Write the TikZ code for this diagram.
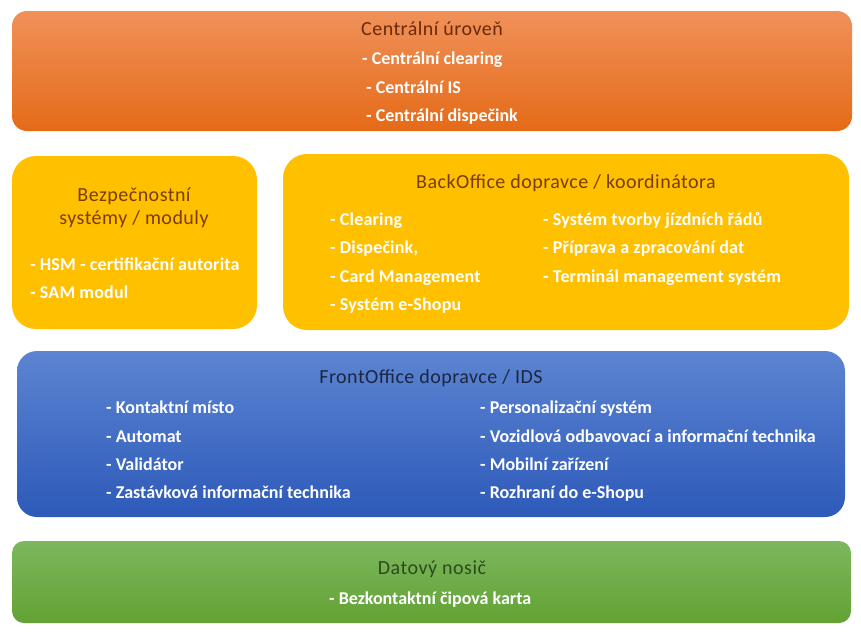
\documentclass[tikz,border=0pt]{standalone}
\usepackage{fontspec}
\setmainfont{Carlito}
\newfontfamily\ttlfont[LetterSpace=2.4]{Carlito}
\newfontfamily\yebold[LetterSpace=1.0]{Carlito Bold}
\definecolor{orT}{HTML}{F0915A}
\definecolor{orB}{HTML}{E56A17}
\definecolor{ye}{HTML}{FFC000}
\definecolor{blT}{HTML}{5C84D2}
\definecolor{blB}{HTML}{2D5AB9}
\definecolor{grT}{HTML}{7DB75E}
\definecolor{grB}{HTML}{62A233}
\definecolor{brownT}{HTML}{6B2A08}
\definecolor{yeT}{HTML}{7A3C00}
\definecolor{blueT}{HTML}{1C2640}
\definecolor{greenT}{HTML}{2E4A1C}
\tikzset{
  ttl/.style={inner sep=0pt, anchor=base, font=\fontsize{20}{22}\ttlfont},
  itm/.style={inner sep=0pt, anchor=base west, text=white, font=\fontsize{18}{20}\bfseries},
  itmy/.style={inner sep=0pt, anchor=base west, text=white, font=\fontsize{18}{20}\yebold},
}
\begin{document}
\begin{tikzpicture}[x=1pt,y=-1pt]
\useasboundingbox (0,0) rectangle (861,633);
% boxes
\shade[top color=orT, bottom color=orB, rounded corners=15pt] (12,11) rectangle (852,131);
\fill[ye, rounded corners=24pt] (12,156) rectangle (257,329);
\fill[ye, rounded corners=24pt] (283,154) rectangle (849,330);
\shade[top color=blT, bottom color=blB, rounded corners=20pt] (17,351) rectangle (845,517);
\shade[top color=grT, bottom color=grB, rounded corners=12pt] (12,541) rectangle (851,623);
% central
\node[ttl, text=brownT] (c0) at (432,35) {Centrální úroveň};
\node[itm] (c1) at (362,64) {- Centrální clearing};
\node[itm] (c2) at (366,93) {- Centrální IS};
\node[itm] (c3) at (366,121) {- Centrální dispečink};
% security
\node[ttl, text=yeT] (s0) at (134,201) {Bezpečnostní};
\node[ttl, text=yeT] (s0b) at (134,224) {systémy / moduly};
\node[itmy] (s1) at (30,270) {- HSM - certifikační autorita};
\node[itmy] (s2) at (30,298) {- SAM modul};
% backoffice
\node[ttl, text=yeT] (b0) at (566,188) {BackOffice dopravce / koordinátora};
\node[itmy] (b1) at (330,225) {- Clearing};
\node[itmy] (b2) at (330,253) {- Dispečink,};
\node[itmy] (b3) at (330,282) {- Card Management};
\node[itmy] (b4) at (330,310) {- Systém e-Shopu};
\node[itmy] (b5) at (543,225) {- Systém tvorby jízdních řádů};
\node[itmy] (b6) at (543,253) {- Příprava a zpracování dat};
\node[itmy] (b7) at (543,282) {- Terminál management systém};
% frontoffice
\node[ttl, text=blueT] (f0) at (431,383) {FrontOffice dopravce / IDS};
\node[itm] (f1) at (106,413) {- Kontaktní místo};
\node[itm] (f2) at (106,442) {- Automat};
\node[itm] (f3) at (106,470) {- Validátor};
\node[itm] (f4) at (106,498) {- Zastávková informační technika};
\node[itm] (f5) at (480,413) {- Personalizační systém};
\node[itm] (f6) at (480,442) {- Vozidlová odbavovací a informační technika};
\node[itm] (f7) at (480,470) {- Mobilní zařízení};
\node[itm] (f8) at (480,498) {- Rozhraní do e-Shopu};
% data
\node[ttl, text=greenT] (d0) at (432,574) {Datový nosič};
\node[itm] (d1) at (329,604) {- Bezkontaktní čipová karta};
\end{tikzpicture}
\end{document}
